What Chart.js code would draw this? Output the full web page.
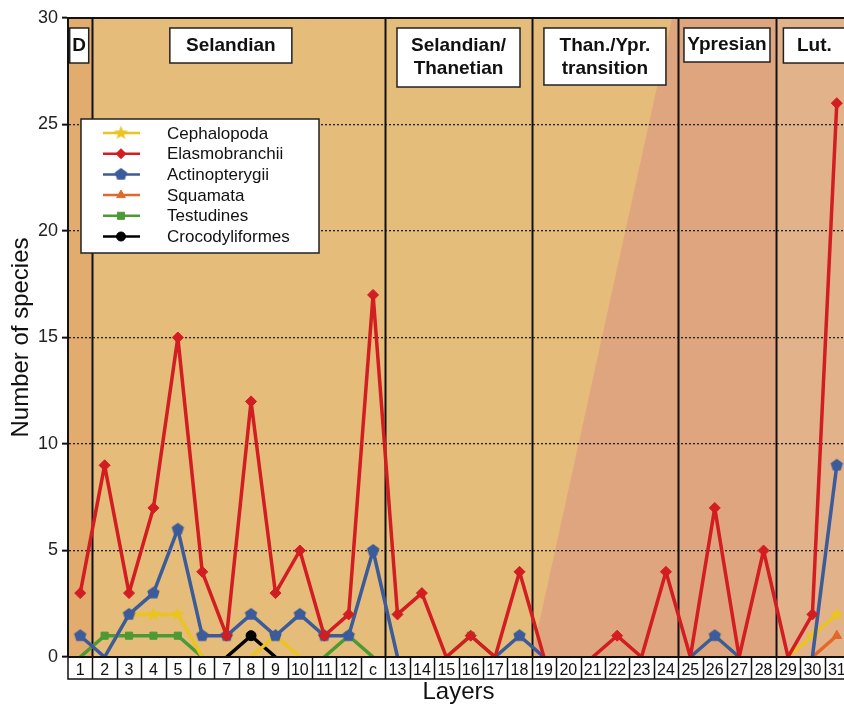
<!DOCTYPE html>
<html>
<head>
<meta charset="utf-8">
<title>Number of species per layer</title>
<script src="https://cdn.jsdelivr.net/npm/chart.js@4.4.0/dist/chart.umd.min.js"></script>
<style>
    html, body { margin: 0; padding: 0; background: #fff; overflow: hidden; }
    #speciesChart { display: block; }
</style>
</head>
<body>
<canvas id="speciesChart" width="856" height="704"></canvas>
<script>
// layers (x categories)
const layers = ['1', '2', '3', '4', '5', '6', '7', '8', '9', '10', '11', '12', 'c',
    '13', '14', '15', '16', '17', '18', '19', '20', '21', '22', '23', '24',
    '25', '26', '27', '28', '29', '30', '31'];

// number of species per layer
const cephalopoda     = [0, 0, 2, 2, 2, 0, 0, 0, 1, 0, 0, 0, 0,  0, 0, 0, 0, 0, 0,  0, 0, 0, 0, 0, 0,  0, 1, 0, 0,  0, 1, 2];
const elasmobranchii  = [3, 9, 3, 7, 15, 4, 1, 12, 3, 5, 1, 2, 17,  2, 3, 0, 1, 0, 4,  0, 0, 0, 1, 0, 4,  0, 7, 0, 5,  0, 2, 26];
const actinopterygii  = [1, 0, 2, 3, 6, 1, 1, 2, 1, 2, 1, 1, 5,  0, 0, 0, 0, 0, 1,  0, 0, 0, 0, 0, 0,  0, 1, 0, 0,  0, 0, 9];
const squamata        = [0, 0, 0, 0, 0, 0, 0, 0, 0, 0, 0, 0, 0,  0, 0, 0, 0, 0, 0,  0, 0, 0, 0, 0, 0,  0, 0, 0, 0,  0, 0, 1];
const testudines      = [0, 1, 1, 1, 1, 0, 0, 0, 0, 0, 0, 1, 0,  0, 0, 0, 1, 0, 0,  0, 0, 0, 0, 0, 0,  0, 0, 0, 0,  0, 0, 0];
const crocodyliformes = [0, 0, 0, 0, 0, 0, 0, 1, 0, 0, 0, 0, 0,  0, 0, 0, 0, 0, 0,  0, 0, 0, 0, 0, 0,  0, 0, 0, 0,  0, 0, 0];

// stratigraphic periods and the layer each one starts at
const periodNames  = ['D', 'Selandian', 'Selandian/\nThanetian', 'Than./Ypr.\ntransition', 'Ypresian', 'Lut.'];
const periodStarts = ['1', '2', '13', '19', '25', '29'];

const yTicks = [0, 5, 10, 15, 20, 25, 30];

const FONT = "'Liberation Sans', Arial, sans-serif";
Chart.defaults.font.family = FONT;

// 星形と五角形のマーカー
function makeMarker(color, points, outer, inner) {
    const c = document.createElement('canvas');
    const s = Math.ceil(outer * 2 + 2);
    c.width = s;
    c.height = s;
    const g = c.getContext('2d');
    const n = inner ? points * 2 : points;
    g.beginPath();
    for (let i = 0; i < n; i++) {
        const r = inner && i % 2 === 1 ? inner : outer;
        const a = -Math.PI / 2 + i * 2 * Math.PI / n;
        const px = s / 2 + r * Math.cos(a);
        const py = s / 2 + r * Math.sin(a);
        if (i === 0) g.moveTo(px, py); else g.lineTo(px, py);
    }
    g.closePath();
    g.fillStyle = color;
    g.fill();
    return c;
}

const starMarker = makeMarker('#e9c423', 5, 7.5, 3.2);
const pentaMarker = makeMarker('#3b5b9b', 5, 6.5, 0);

function series(label, data, color, pointStyle, radius, order) {
    return {
        label: label,
        data: data,
        borderColor: color,
        backgroundColor: color,
        borderWidth: 3.5,
        borderJoinStyle: 'round',
        pointStyle: pointStyle,
        pointRadius: ctx => ctx.raw === 0 ? 0 : radius,
        pointHoverRadius: radius,
        pointBorderWidth: 1,
        tension: 0,
        clip: 0,
        order: order,
        segment: {
            // 0 のままの区間は軸に隠れるので描かない
            borderColor: ctx => (ctx.p0.parsed.y === 0 && ctx.p1.parsed.y === 0) ? 'rgba(0,0,0,0)' : undefined
        }
    };
}

function bandEdges(scale) {
    const half = (scale.getPixelForValue(1) - scale.getPixelForValue(0)) / 2;
    return periodStarts.map((s, i) => {
        const from = scale.getPixelForValue(layers.indexOf(s)) - half;
        const to = i + 1 < periodStarts.length
            ? scale.getPixelForValue(layers.indexOf(periodStarts[i + 1])) - half
            : scale.getPixelForValue(layers.length - 1) + half;
        return [from, to];
    });
}

const bandColors = ['#e1ac6e', '#e5bc79', '#e5bd7a', '#e5bc79', '#dfa57e', '#e2b28b'];

const backgroundPlugin = {
    id: 'bands',
    beforeDraw(chart) {
        const { ctx, chartArea: a, scales: { x } } = chart;
        const edges = bandEdges(x);
        ctx.save();
        edges.forEach(([l, r], i) => {
            ctx.fillStyle = bandColors[i];
            ctx.fillRect(l, a.top, r - l, a.bottom - a.top);
        });
        // Than./Ypr. transition: diagonal change of colour
        const [tl, tr] = edges[3];
        ctx.fillStyle = bandColors[4];
        ctx.beginPath();
        ctx.moveTo(tl, a.bottom);
        ctx.lineTo(tr - 6, a.top);
        ctx.lineTo(tr, a.top);
        ctx.lineTo(tr, a.bottom);
        ctx.closePath();
        ctx.fill();
        // white label row
        ctx.fillStyle = '#fff';
        ctx.fillRect(a.left, a.bottom, a.right - a.left, 22);
        ctx.restore();
    },
    beforeDatasetsDraw(chart) {
        const { ctx, chartArea: a, scales: { x } } = chart;
        const edges = bandEdges(x);
        ctx.save();
        ctx.strokeStyle = '#111';
        ctx.lineWidth = 2;
        edges.slice(1).forEach(([l]) => {
            ctx.beginPath();
            ctx.moveTo(Math.round(l) + 0.5, a.top);
            ctx.lineTo(Math.round(l) + 0.5, a.bottom);
            ctx.stroke();
        });
        ctx.beginPath();
        ctx.moveTo(a.left, a.top);
        ctx.lineTo(a.right, a.top);
        ctx.stroke();
        ctx.restore();
    },
    afterDatasetsDraw(chart) {
        const { ctx, chartArea: a, scales: { x } } = chart;
        const half = (x.getPixelForValue(1) - x.getPixelForValue(0)) / 2;
        ctx.save();
        ctx.strokeStyle = '#111';
        ctx.lineWidth = 1.5;
        ctx.strokeRect(a.left, a.bottom, a.right - a.left, 22);
        for (let i = 1; i < layers.length; i++) {
            const px = Math.round(x.getPixelForValue(i) - half) + 0.5;
            ctx.beginPath();
            ctx.moveTo(px, a.bottom);
            ctx.lineTo(px, a.bottom + 22);
            ctx.stroke();
        }
        ctx.lineWidth = 2;
        ctx.beginPath();
        ctx.moveTo(a.left, a.bottom);
        ctx.lineTo(a.right, a.bottom);
        ctx.stroke();
        ctx.restore();
    }
};

// period label boxes: width, height, horizontal shift from band centre
const boxSizes = [[19, 35, -1], [122, 35, -8], [123, 59, 0], [122, 57, 0], [86, 34, 0], [62, 35, 2]];

const periodLabelPlugin = {
    id: 'periodLabels',
    afterDraw(chart) {
        const { ctx, chartArea: a, scales: { x } } = chart;
        const edges = bandEdges(x);
        ctx.save();
        ctx.font = "bold 19px " + FONT;
        ctx.textAlign = 'center';
        ctx.textBaseline = 'middle';
        edges.forEach(([l, r], i) => {
            const [w, h, dx] = boxSizes[i];
            const cx = (l + r) / 2 + dx;
            const top = a.top + 10;
            ctx.fillStyle = '#fff';
            ctx.fillRect(cx - w / 2, top, w, h);
            ctx.strokeStyle = '#222';
            ctx.lineWidth = 1.5;
            ctx.strokeRect(cx - w / 2, top, w, h);
            ctx.fillStyle = '#111';
            const lines = periodNames[i].split('\n');
            lines.forEach((t, k) => {
                const ty = lines.length === 1 ? top + h / 2 : top + 18 + k * 23;
                ctx.fillText(t, cx, ty);
            });
        });
        ctx.restore();
    }
};

function drawMarker(ctx, style, radius, color, px, py) {
    if (style instanceof HTMLCanvasElement) {
        ctx.drawImage(style, px - style.width / 2, py - style.height / 2);
        return;
    }
    ctx.fillStyle = color;
    ctx.strokeStyle = color;
    ctx.lineWidth = 1;
    Chart.helpers.drawPoint(ctx, { pointStyle: style, radius: radius, rotation: 0, borderWidth: 1 }, px, py);
}

const legendPlugin = {
    id: 'boxLegend',
    afterDraw(chart) {
        const { ctx } = chart;
        const left = 81, top = 119, w = 238, h = 134;
        ctx.save();
        ctx.fillStyle = '#fff';
        ctx.fillRect(left, top, w, h);
        ctx.strokeStyle = '#222';
        ctx.lineWidth = 1.5;
        ctx.strokeRect(left, top, w, h);
        ctx.font = '17px ' + FONT;
        ctx.textBaseline = 'middle';
        ctx.textAlign = 'left';
        chart.data.datasets.forEach((ds, i) => {
            const y = top + 14 + i * 20.7;
            ctx.strokeStyle = ds.borderColor;
            ctx.lineWidth = 2.5;
            ctx.beginPath();
            ctx.moveTo(103, y);
            ctx.lineTo(140, y);
            ctx.stroke();
            drawMarker(ctx, ds.pointStyle, ds.legendRadius, ds.borderColor, 121, y);
            ctx.fillStyle = '#111';
            ctx.fillText(ds.label, 167, y + 1);
        });
        ctx.restore();
    }
};

const datasets = [
    series('Cephalopoda', cephalopoda, '#e9c423', starMarker, 6, 2),
    series('Elasmobranchii', elasmobranchii, '#d21d22', 'rectRot', 5.5, 0),
    series('Actinopterygii', actinopterygii, '#3b5b9b', pentaMarker, 6, 1),
    series('Squamata', squamata, '#e2692a', 'triangle', 5.5, 4),
    series('Testudines', testudines, '#4c9a35', 'rect', 5, 5),
    series('Crocodyliformes', crocodyliformes, '#000000', 'circle', 5, 3)
];
datasets.forEach(d => { d.legendRadius = d.pointStyle === 'circle' ? 4.5 : 5; });

new Chart(document.getElementById('speciesChart').getContext('2d'), {
    type: 'line',
    data: { labels: layers, datasets: datasets },
    options: {
        responsive: false,
        animation: false,
        layout: { padding: { top: 18, right: 0, left: 0, bottom: 0 } },
        plugins: {
            legend: { display: false },
            tooltip: { enabled: false }
        },
        scales: {
            x: {
                type: 'category',
                offset: true,
                grid: { display: false, drawTicks: false },
                border: { display: false },
                ticks: {
                    autoSkip: false,
                    maxRotation: 0,
                    padding: 4,
                    color: '#111',
                    font: { size: 16 }
                },
                title: {
                    display: true,
                    text: 'Layers',
                    color: '#111',
                    font: { size: 24, lineHeight: 1 },
                    padding: 0
                },
                afterFit: s => { s.height = 47; }
            },
            y: {
                min: 0,
                max: 30,
                afterBuildTicks: s => { s.ticks = yTicks.map(v => ({ value: v })); },
                grid: {
                    color: c => (c.tick && (c.tick.value === 0 || c.tick.value === 30)) ? 'rgba(0,0,0,0)' : '#222',
                    lineWidth: 1.3,
                    drawTicks: true,
                    tickLength: 6,
                    tickColor: '#111',
                    tickWidth: 2
                },
                border: { display: true, color: '#111', width: 2, dash: [2, 2] },
                ticks: {
                    padding: 4,
                    color: '#222',
                    font: { size: 18 }
                },
                title: {
                    display: true,
                    text: 'Number of species',
                    color: '#111',
                    font: { size: 24 },
                    padding: { top: 7, bottom: 0 }
                },
                afterFit: s => { s.width = 68; }
            }
        }
    },
    plugins: [backgroundPlugin, periodLabelPlugin, legendPlugin]
});
</script>
</body>
</html>
